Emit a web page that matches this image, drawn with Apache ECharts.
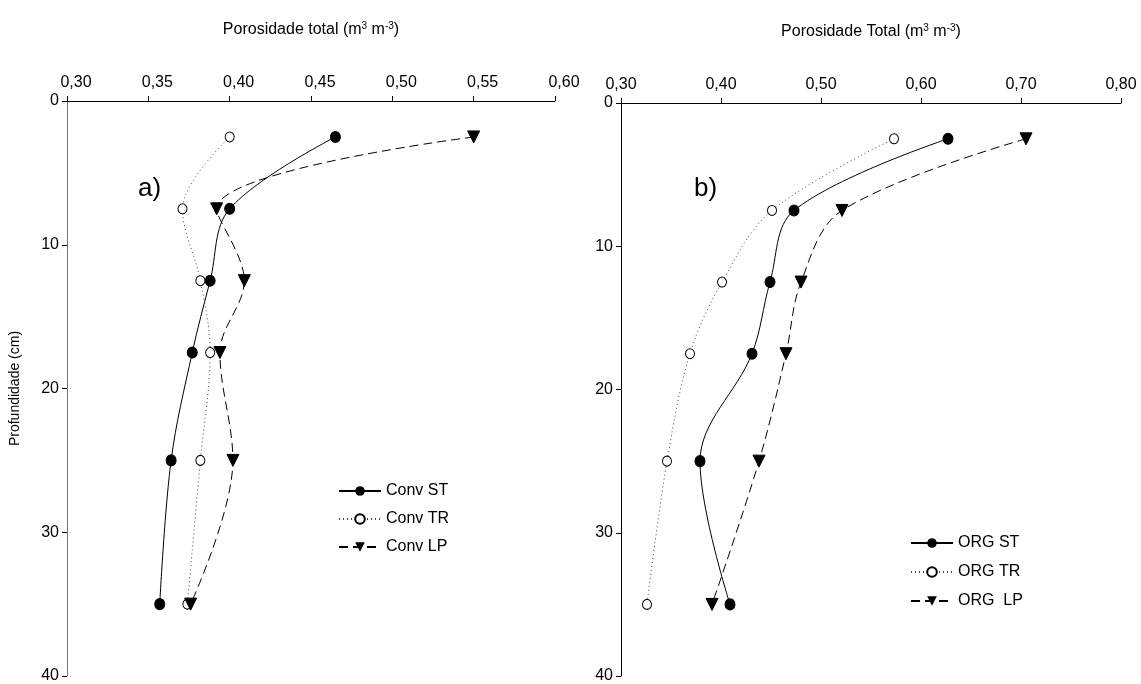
<!DOCTYPE html>
<html>
<head>
<meta charset="utf-8">
<script src="https://cdn.jsdelivr.net/npm/echarts@6/dist/echarts.min.js"></script>
<style>
html,body{margin:0;padding:0;background:#fff;}
#c{width:1141px;height:684px;}
</style>
</head>
<body>
<div id="c"></div>
<script>
// Depths (cm)
const depths = [2.5, 7.5, 12.5, 17.5, 25, 35];
// Panel a) Conventional
const convST = [0.465, 0.400, 0.388, 0.377, 0.364, 0.357];
const convTR = [0.400, 0.371, 0.382, 0.388, 0.382, 0.374];
const convLP = [0.550, 0.392, 0.409, 0.394, 0.402, 0.376];
// Panel b) Organic
const orgST = [0.627, 0.473, 0.449, 0.431, 0.379, 0.409];
const orgTR = [0.573, 0.451, 0.401, 0.369, 0.346, 0.326];
const orgLP = [0.705, 0.521, 0.480, 0.465, 0.438, 0.391];
// Axis tick labels
const depthTicks = [0, 10, 20, 30, 40];
const xTicksA = [0.30, 0.35, 0.40, 0.45, 0.50, 0.55, 0.60];
const xTicksB = [0.30, 0.40, 0.50, 0.60, 0.70, 0.80];
const seriesNamesA = ['Conv ST', 'Conv TR', 'Conv LP'];
const seriesNamesB = ['ORG ST', 'ORG TR', 'ORG  LP'];

const FONT = "'Liberation Sans Narrow', 'Arial Narrow', 'Liberation Sans', Arial, sans-serif";
const pair = (vals) => vals.map((v, i) => [v, depths[i]]);
const fmt = (v) => v.toFixed(2).replace('.', ',');

function xAxisCfg(idx, ticks, name, shift) {
  return {
    gridIndex: idx, type: 'value', position: 'top',
    min: ticks[0], max: ticks[ticks.length - 1], interval: ticks[1] - ticks[0],
    axisLine: {show: true, lineStyle: {color: '#000', width: 1}},
    axisTick: {show: true, length: 5, lineStyle: {color: '#000'}},
    splitLine: {show: false},
    axisLabel: {formatter: fmt, color: '#000', fontSize: 16, fontFamily: FONT, margin: 10, padding: [0, 0, 0, shift]},
    name: name, nameLocation: 'middle', nameGap: 62,
    nameTextStyle: {color: '#000', fontSize: 16, fontFamily: FONT,
      rich: {sup: {fontSize: 10, verticalAlign: 'top', padding: [0, 0, 8, 0], fontFamily: FONT, color: '#000'},
             n: {fontSize: 16, fontFamily: FONT, color: '#000'}}}
  };
}
function yAxisCfg(idx, color, showName) {
  return {
    gridIndex: idx, type: 'value', inverse: true,
    min: depthTicks[0], max: depthTicks[depthTicks.length - 1], interval: depthTicks[1] - depthTicks[0],
    axisLine: {show: true, onZero: false, lineStyle: {color: color, width: 1}},
    axisTick: {show: true, length: 5, lineStyle: {color: '#000'}},
    splitLine: {show: false},
    axisLabel: {color: '#000', fontSize: 16, fontFamily: FONT, margin: 8},
    name: showName ? 'Profundidade (cm)' : '', nameLocation: 'middle', nameGap: 45,
    nameTextStyle: {color: '#000', fontSize: 14, fontFamily: "'Liberation Sans', Arial, sans-serif"}
  };
}
function mk(name, data, idx, kind) {
  const base = {name: name, type: 'line', xAxisIndex: idx, yAxisIndex: idx, data: pair(data),
    smooth: 0.35, z: 3};
  if (kind === 'ST') {
    return Object.assign(base, {symbol: 'circle', symbolSize: [10, 11],
      itemStyle: {color: '#000', borderColor: '#000'},
      lineStyle: {color: '#000', width: 1, type: 'solid'}});
  } else if (kind === 'TR') {
    return Object.assign(base, {symbol: 'circle', symbolSize: [9, 10],
      itemStyle: {color: '#fff', borderColor: '#000', borderWidth: 1},
      lineStyle: {color: '#444', width: 1, type: [1, 3]}});
  }
  return Object.assign(base, {symbol: 'triangle', symbolRotate: 180, symbolSize: 12,
    itemStyle: {color: '#000', borderColor: '#000'},
    lineStyle: {color: '#000', width: 1, type: [9, 5]}});
}

const chart = echarts.init(document.getElementById('c'), null, {renderer: 'canvas'});
chart.setOption({
  backgroundColor: '#fff',
  animation: false,
  grid: [
    {left: 67, top: 101, width: 488, height: 576},
    {left: 621, top: 103, width: 500, height: 575}
  ],
  xAxis: [
    xAxisCfg(0, xTicksA, '{n|Porosidade total (m}{sup|3}{n| m}{sup|-3}{n|)}', 18),
    xAxisCfg(1, xTicksB, '{n|Porosidade Total (m}{sup|3}{n| m}{sup|-3}{n|)}', 0)
  ],
  yAxis: [yAxisCfg(0, '#777', true), yAxisCfg(1, '#000', false)],
  legend: [
    {data: seriesNamesA, left: 333, top: 478, orient: 'vertical', itemWidth: 42, itemHeight: 12, itemGap: 12,
     textStyle: {fontSize: 16, fontFamily: FONT, color: '#000'}},
    {data: seriesNamesB, left: 905, top: 530, orient: 'vertical', itemWidth: 42, itemHeight: 12, itemGap: 13,
     textStyle: {fontSize: 16, fontFamily: FONT, color: '#000'}}
  ],
  graphic: [
    {type: 'text', left: 138, top: 176, style: {text: 'a)', font: "26px 'Liberation Sans', Arial", fill: '#000'}},
    {type: 'text', left: 694, top: 176, style: {text: 'b)', font: "26px 'Liberation Sans', Arial", fill: '#000'}}
  ],
  series: [
    mk(seriesNamesA[0], convST, 0, 'ST'),
    mk(seriesNamesA[1], convTR, 0, 'TR'),
    mk(seriesNamesA[2], convLP, 0, 'LP'),
    mk(seriesNamesB[0], orgST, 1, 'ST'),
    mk(seriesNamesB[1], orgTR, 1, 'TR'),
    mk(seriesNamesB[2], orgLP, 1, 'LP')
  ]
});
</script>
</body>
</html>
